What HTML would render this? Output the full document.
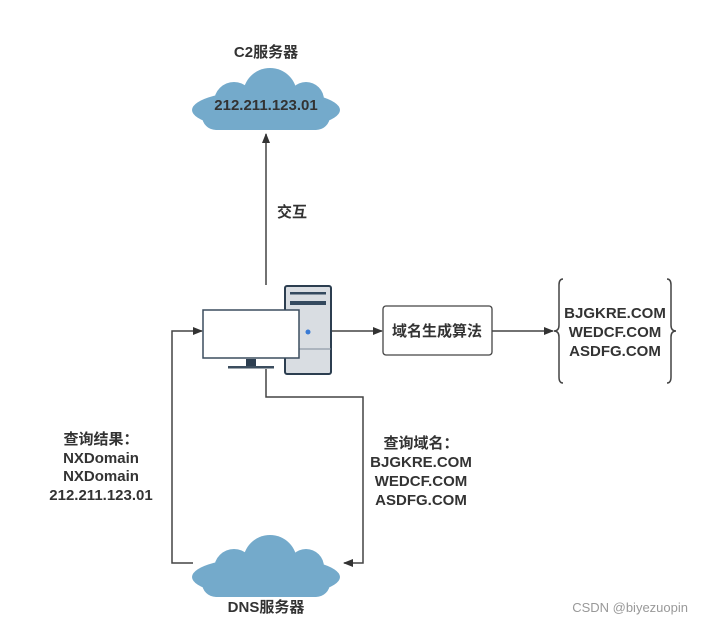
<!DOCTYPE html>
<html><head><meta charset="utf-8"><style>
body{margin:0;background:#fff;}
svg text{font-family:"Liberation Sans","Noto Sans CJK SC",sans-serif;font-weight:bold;fill:#333;}
</style></head><body>
<svg width="702" height="622" viewBox="0 0 702 622" xmlns="http://www.w3.org/2000/svg">
<defs>
<marker id="a" markerWidth="10" markerHeight="8" refX="9" refY="4" orient="auto" markerUnits="userSpaceOnUse"><path d="M0,0 L10,4 L0,8 z" fill="#333"/></marker>
<g id="cloud" fill="#74aacb">
<ellipse cx="74" cy="42" rx="74" ry="20"/>
<circle cx="42" cy="34" r="20"/>
<circle cx="78" cy="27" r="27"/>
<circle cx="114" cy="32" r="18"/>
<rect x="10" y="34" width="128" height="28" rx="14"/>
</g>
</defs>
<rect width="702" height="622" fill="#fff"/>
<use href="#cloud" x="192" y="68"/>
<use href="#cloud" x="192" y="535"/>
<text x="266" y="57" text-anchor="middle" font-size="15">C2服务器</text>
<text x="266" y="110" text-anchor="middle" font-size="15">212.211.123.01</text>
<text x="266" y="612" text-anchor="middle" font-size="15">DNS服务器</text>
<g stroke="#444" stroke-width="1.5" fill="none">
<line x1="266" y1="285" x2="266" y2="134" marker-end="url(#a)"/>
<polyline points="193,563 172,563 172,331 202,331" marker-end="url(#a)"/>
<polyline points="266,369 266,397 363,397 363,563 344,563" marker-end="url(#a)"/>
<line x1="331" y1="331" x2="382" y2="331" marker-end="url(#a)"/>
<line x1="492" y1="331" x2="553" y2="331" marker-end="url(#a)"/>
<path d="M563,279 q-4,0 -4,6 v40 q0,6 -5,6 q5,0 5,6 v40 q0,6 4,6"/>
<path d="M667,279 q4,0 4,6 v40 q0,6 5,6 q-5,0 -5,6 v40 q0,6 -4,6"/>
</g>
<text x="292" y="217" text-anchor="middle" font-size="15">交互</text>
<rect x="285" y="286" width="46" height="88" rx="2" fill="#d9dde2" stroke="#2c3e50" stroke-width="2"/>
<line x1="285" y1="349" x2="331" y2="349" stroke="#7f8c99" stroke-width="1"/>
<rect x="290" y="292" width="36" height="2.5" fill="#34495e"/>
<rect x="290" y="301" width="36" height="4" fill="#34495e"/>
<circle cx="308" cy="332" r="2.5" fill="#3a7bd5"/>
<rect x="203" y="310" width="96" height="48" fill="#fff" stroke="#3b4d5e" stroke-width="1.5"/>
<rect x="246" y="359" width="10" height="7" fill="#2c3e50"/>
<rect x="228" y="366" width="46" height="2.5" fill="#3b4d5e"/>
<rect x="383" y="306" width="109" height="49" rx="3" fill="#fff" stroke="#444" stroke-width="1.3"/>
<text x="437" y="336" text-anchor="middle" font-size="15">域名生成算法</text>
<g font-size="15" text-anchor="middle">
<text x="615" y="318">BJGKRE.COM</text>
<text x="615" y="337">WEDCF.COM</text>
<text x="615" y="356">ASDFG.COM</text>
<text x="421" y="448">查询域名：</text>
<text x="421" y="467">BJGKRE.COM</text>
<text x="421" y="486">WEDCF.COM</text>
<text x="421" y="505">ASDFG.COM</text>
<text x="101" y="444">查询结果：</text>
<text x="101" y="463">NXDomain</text>
<text x="101" y="481">NXDomain</text>
<text x="101" y="500">212.211.123.01</text>
</g>
<text x="688" y="612" text-anchor="end" font-size="13" style="font-weight:normal;fill:#999">CSDN @biyezuopin</text>
</svg>
</body></html>
